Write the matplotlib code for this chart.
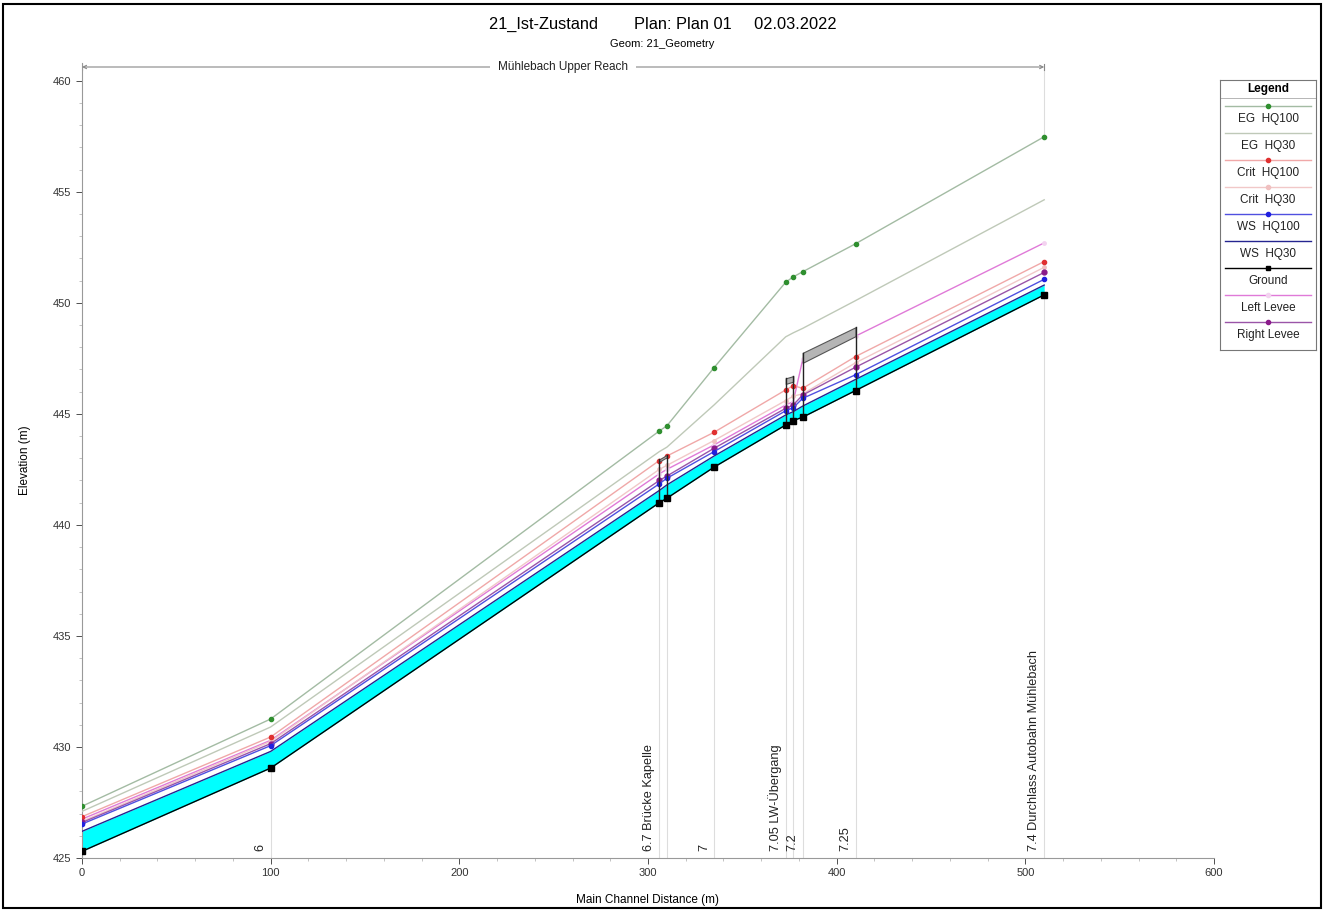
import numpy as np
import matplotlib.pyplot as plt
from matplotlib.patches import Rectangle

plt.rcParams['font.family'] = ['Liberation Sans', 'DejaVu Sans']

# stations along main channel (m)
dist = [0, 100, 306, 310, 335, 373, 377, 382, 410, 510]
ground = [425.3, 429.05, 441.0, 441.2, 442.6, 444.5, 444.7, 444.85, 446.05, 450.36]
ws_hq30 = [426.2, 429.8, 441.55, 441.8, 443.1, 444.95, 445.1, 445.35, 446.55, 450.8]
ws_hq100 = [426.53, 430.06, 441.85, 442.1, 443.3, 445.14, 445.28, 445.7, 446.76, 451.06]
crit_hq30 = [426.65, 430.25, 442.5, 442.68, 443.8, 445.6, 445.8, 445.9, 447.3, 451.6]
crit_hq100 = [426.86, 430.45, 442.9, 443.1, 444.17, 446.08, 446.27, 446.15, 447.58, 451.86]
eg_hq30 = [427.1, 430.9, 443.3, 443.5, 445.4, 448.47, 448.65, 448.85, 450.1, 454.64]
eg_hq100 = [427.33, 431.26, 444.23, 444.46, 447.08, 450.93, 451.17, 451.4, 452.66, 457.48]
left_levee = [426.75, 430.3, 442.3, 442.5, 443.6, 445.4, 445.55, 447.45, 448.5, 452.7]
right_levee = [426.6, 430.15, 442.0, 442.2, 443.45, 445.25, 445.4, 445.85, 447.1, 451.37]

# bridges: (us station, ds station, deck top us/ds, deck bottom us/ds)
bridge_x = [(306, 310), (373, 377), (382, 410)]
deck_top = [(442.95, 443.15), (446.6, 446.7), (447.75, 448.9)]
deck_low = [(442.85, 443.05), (446.35, 446.45), (447.3, 448.5)]

# river station labels
rs_x = [100, 306, 335, 373, 382, 410, 510]
rs_labels = ["6", "6.7 Brücke Kapelle", "7", "7.05 LW-Übergang", "7.2", "7.25",
             "7.4 Durchlass Autobahn Mühlebach"]

c_eg100 = '#a3bba3'
c_eg30 = '#bfc9b8'
c_cr100 = '#f0a8a8'
c_cr30 = '#f1c8c8'
c_ws100 = '#5050e0'
c_ws30 = '#252590'
c_ll = '#e07ad8'
c_rl = '#9a55a8'

fig = plt.figure(figsize=(13.25, 9.11), dpi=100)
ax = fig.add_axes([82/1325, 53/911, 1132/1325, 795/911])

x = np.array(dist)
# station lines
for xi, g in zip(dist, ground):
    ax.plot([xi, xi], [425, g], color='#dddddd', lw=0.8, zorder=1)

ax.fill_between(x, ground, ws_hq30, color='#00ffff', lw=0, zorder=2)
ax.plot(x, eg_hq100, color=c_eg100, lw=1, marker='o', ms=3, mfc='#2f8f2f', mec='#2f8f2f', zorder=3)
ax.plot(x, eg_hq30, color=c_eg30, lw=1, zorder=3)
ax.plot(x, left_levee, color=c_ll, lw=1, marker='o', ms=2.5, mfc='#f3d3f0', mec='#f3d3f0', zorder=3)
ax.plot(x, crit_hq30, color=c_cr30, lw=1, marker='o', ms=2.5, mfc='#f0c0c0', mec='#f0c0c0', zorder=3)
ax.plot(x, crit_hq100, color=c_cr100, lw=1, marker='o', ms=3, mfc='#e03030', mec='#e03030', zorder=4)
ax.plot(x, right_levee, color=c_rl, lw=1, marker='o', ms=3.5, mfc='#8a1a8a', mec='#8a1a8a', zorder=4)
ax.plot(x, ws_hq100, color=c_ws100, lw=1, marker='o', ms=3, mfc='#2020e0', mec='#2020e0', zorder=4)
ax.plot(x, ws_hq30, color=c_ws30, lw=1, zorder=4)
ax.plot(x, ground, color='black', lw=1, marker='s', ms=4.5, zorder=5)

# bridges
for (xa, xb), (ta, tb), (la, lb) in zip(bridge_x, deck_top, deck_low):
    ax.fill_between([xa, xb], [la, lb], [ta, tb], facecolor='#b5b5b5',
                    edgecolor='#555555', lw=0.8, zorder=4)
    ga = np.interp(xa, dist, ground)
    gb = np.interp(xb, dist, ground)
    ax.plot([xa, xa], [ga, ta], color='#222222', lw=1, zorder=4)
    ax.plot([xb, xb], [gb, tb], color='#222222', lw=1, zorder=4)

for xi, lab in zip(rs_x, rs_labels):
    ax.annotate(lab, (xi, 425.3), xytext=(-3, 0), textcoords='offset points',
                rotation=90, ha='right', va='bottom', fontsize=9.2, color='#222222')

# reach annotation
yr = 460.62
ax.annotate('', xy=(0, yr), xytext=(510, yr),
            arrowprops=dict(arrowstyle='<->', color='#888888', lw=0.8,
                            shrinkA=0, shrinkB=0, mutation_scale=6))
ax.plot([0, 0], [yr - 0.12, yr + 0.12], color='#888888', lw=0.8)
ax.plot([510, 510], [yr - 0.12, yr + 0.12], color='#888888', lw=0.8)
ax.text(255, yr, 'Mühlebach Upper Reach', ha='center', va='center', fontsize=8.5,
        color='#222222', bbox=dict(facecolor='white', edgecolor='none', pad=6))
ax.plot([510, 510], [yr, 457.48], color='#dddddd', lw=0.8, zorder=1)

ax.set_xlim(0, 600)
ax.set_ylim(425, 460.8)
ax.set_xticks(range(0, 601, 100))
ax.set_xticks(range(0, 601, 20), minor=True)
ax.set_yticks(range(425, 461, 5))
ax.set_yticks(range(425, 461, 1), minor=True)
ax.tick_params(labelsize=8, colors='#333333', length=4, width=0.6)
ax.tick_params(which='minor', length=2, width=0.5, color='#aaaaaa')
for s in ['top', 'right']:
    ax.spines[s].set_visible(False)
for s in ['left', 'bottom']:
    ax.spines[s].set_color('#999999')
    ax.spines[s].set_linewidth(0.8)
ax.set_xlabel('Main Channel Distance (m)', fontsize=8.5, labelpad=11)
ax.set_ylabel('Elevation (m)', fontsize=8.5, labelpad=16)

fig.text(0.5, 1 - 24/911, '21_Ist-Zustand        Plan: Plan 01     02.03.2022',
         ha='center', va='center', fontsize=11.8)
fig.text(0.5, 1 - 44/911, 'Geom: 21_Geometry', ha='center', va='center', fontsize=8)

# legend box
lg = fig.add_axes([1220/1325, 1 - 350/911, 96/1325, 270/911])
lg.set_xlim(0, 1)
lg.set_ylim(350, 80)
lg.set_xticks([])
lg.set_yticks([])
for s in lg.spines.values():
    s.set_color('#777777')
    s.set_linewidth(0.8)
lg.text(0.5, 89, 'Legend', ha='center', va='center', fontsize=8.5, fontweight='bold')
lg.plot([0, 1], [98, 98], color='#aaaaaa', lw=0.6)
entries = [
    ('EG  HQ100', c_eg100, '#2f8f2f'),
    ('EG  HQ30', c_eg30, None),
    ('Crit  HQ100', c_cr100, '#e03030'),
    ('Crit  HQ30', c_cr30, '#f0c0c0'),
    ('WS  HQ100', c_ws100, '#2020e0'),
    ('WS  HQ30', c_ws30, None),
    ('Ground', 'black', 'black'),
    ('Left Levee', c_ll, '#f3d3f0'),
    ('Right Levee', c_rl, '#8a1a8a'),
]
for i, (lab, lc, mc) in enumerate(entries):
    yl = 106 + i * 27
    lg.plot([0.05, 0.95], [yl, yl], color=lc, lw=1)
    if mc is not None:
        lg.plot([0.5], [yl], marker='s' if lab == 'Ground' else 'o', ms=3,
                color=mc, mec=mc)
    lg.text(0.5, yl + 13, lab, ha='center', va='center', fontsize=8.5, color='#222222')

fig.patches.append(Rectangle((3/1325, 3/911), 1318/1325, 904/911, transform=fig.transFigure,
                             fill=False, edgecolor='black', lw=1.5))

fig.savefig('out.png', dpi=100)
